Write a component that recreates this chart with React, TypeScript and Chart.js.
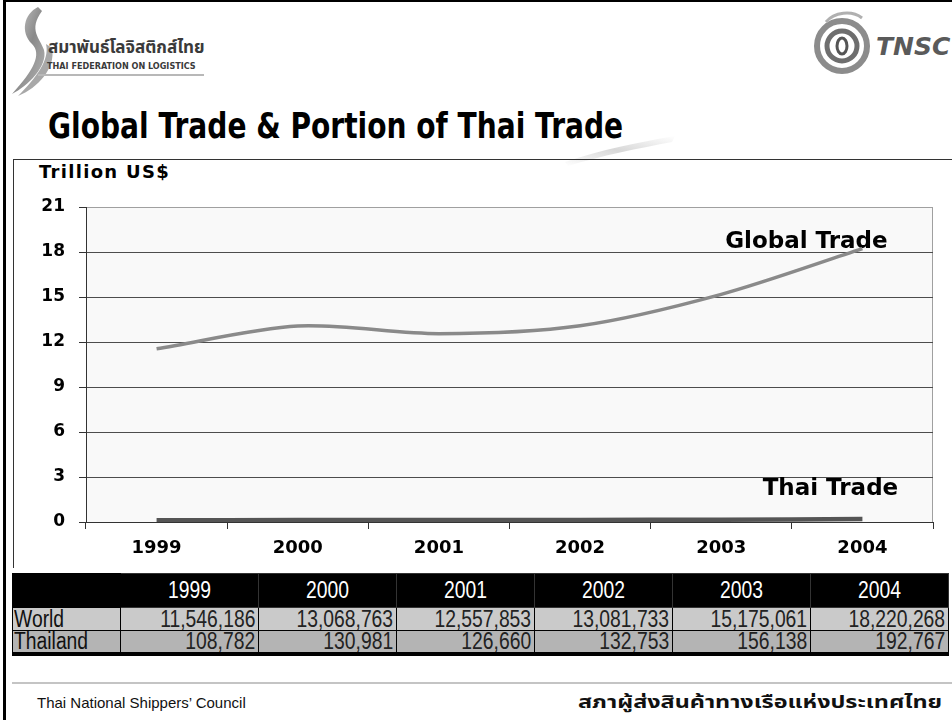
import React, { useEffect, useRef } from "react";
import { Chart, registerables } from "chart.js";

Chart.register(...registerables);

// ---- data (table values in million US$) ----
const years = ["1999", "2000", "2001", "2002", "2003", "2004"];
const worldTrade = [11546186, 13068763, 12557853, 13081733, 15175061, 18220268];
const thaiTrade = [108782, 130981, 126660, 132753, 156138, 192767];
const yTicks = [0, 3, 6, 9, 12, 15, 18, 21];
const rowLabels = ["World", "Thailand"];

const fmt = (n: number) => n.toLocaleString("en-US");

const plotBg = {
  id: "plotBg",
  beforeDraw(chart: any) {
    const { ctx, chartArea: a } = chart;
    ctx.save();
    ctx.fillStyle = "#f9f9f9";
    ctx.fillRect(a.left, a.top, a.right - a.left, a.bottom - a.top);
    ctx.strokeStyle = "#a0a0a0";
    ctx.lineWidth = 1;
    ctx.beginPath();
    ctx.moveTo(Math.round(a.right) - 0.5, a.top);
    ctx.lineTo(Math.round(a.right) - 0.5, a.bottom);
    ctx.stroke();
    ctx.restore();
  },
};

const seriesLabels = {
  id: "seriesLabels",
  beforeDatasetsDraw(chart: any) {
    const ctx = chart.ctx;
    const g = chart.getDatasetMeta(0).data;
    const t = chart.getDatasetMeta(1).data;
    const gl = g[g.length - 1];
    const tl = t[t.length - 1];
    ctx.save();
    ctx.font = 'bold 23px "DejaVu Sans"';
    ctx.fillStyle = "#000";
    ctx.textAlign = "center";
    ctx.textBaseline = "alphabetic";
    ctx.fillText("Global Trade", gl.x - 56, gl.y - 1);
    ctx.fillText("Thai Trade", tl.x - 32, tl.y - 24);
    ctx.restore();
  },
};

function TradeChart() {
  const ref = useRef<HTMLCanvasElement | null>(null);
  useEffect(() => {
    if (!ref.current) return;
    const chart = new Chart(ref.current, {
      type: "line",
      data: {
        labels: years,
        datasets: [
          {
            label: "Global Trade",
            data: worldTrade.map((v) => v / 1e6),
            borderColor: "#8a8a8a",
            borderWidth: 3.5,
            pointRadius: 0,
            tension: 0.3,
            fill: false,
          },
          {
            label: "Thai Trade",
            data: thaiTrade.map((v) => v / 1e6),
            borderColor: "#555555",
            borderWidth: 4.5,
            pointRadius: 0,
            tension: 0.3,
            fill: false,
          },
        ],
      },
      options: {
        animation: false,
        responsive: false,
        maintainAspectRatio: false,
        devicePixelRatio: 1,
        layout: { padding: { top: 47, right: 19, left: 0, bottom: 0 } },
        plugins: {
          legend: { display: false },
          tooltip: { enabled: false },
        },
        scales: {
          x: {
            type: "category",
            offset: true,
            grid: {
              display: true,
              offset: true,
              drawOnChartArea: false,
              drawTicks: true,
              tickLength: 7,
              color: "#333",
            },
            border: { display: true, color: "#333", width: 1 },
            ticks: {
              font: { family: "DejaVu Sans", weight: "bold", size: 18 },
              color: "#000",
              padding: 9,
              maxRotation: 0,
            },
            afterFit: (s: any) => {
              s.height = 45;
            },
          },
          y: {
            min: 0,
            max: 21,
            afterBuildTicks: (s: any) => {
              s.ticks = yTicks.map((v) => ({ value: v }));
            },
            grid: {
              color: (c: any) => (c.tick && c.tick.value === 21 ? "#a0a0a0" : "#4d4d4d"),
              tickColor: "#333",
              tickLength: 7,
              drawTicks: true,
            },
            border: { display: true, color: "#333", width: 1 },
            ticks: {
              font: { family: "DejaVu Sans", weight: "bold", size: 17 },
              color: "#000",
              padding: 14,
            },
            afterFit: (s: any) => {
              s.width = 72;
            },
          },
        },
      },
      plugins: [plotBg, seriesLabels],
    } as any);
    return () => chart.destroy();
  }, []);
  return <canvas ref={ref} width={938} height={407} style={{ position: "absolute", left: 14, top: 160, width: 938, height: 407 }} />;
}

const tableFont = '"Liberation Sans", Arial, sans-serif';

function Squeeze({ children, origin }: { children: React.ReactNode; origin: string }) {
  return (
    <span style={{ display: "inline-block", transform: "scaleX(0.84)", transformOrigin: origin }}>{children}</span>
  );
}

function DataTable() {
  const cell: React.CSSProperties = {
    border: "1px solid #000",
    padding: "0 3px",
    fontFamily: tableFont,
    fontSize: 23,
    lineHeight: "21px",
    whiteSpace: "nowrap",
    overflow: "visible",
  };
  return (
    <table
      style={{
        position: "absolute",
        left: 12,
        top: 573,
        width: 936,
        borderCollapse: "collapse",
        tableLayout: "fixed",
        borderBottom: "4px solid #000",
      }}
    >
      <colgroup>
        <col style={{ width: 108 }} />
        {years.map((y) => (
          <col key={y} style={{ width: 138 }} />
        ))}
      </colgroup>
      <tbody>
        <tr style={{ background: "#000", height: 34 }}>
          <td style={{ ...cell, borderColor: "#000" }}></td>
          {years.map((y) => (
            <td key={y} style={{ ...cell, color: "#fff", textAlign: "center", borderColor: "#333" }}>
              <Squeeze origin="50% 50%">{y}</Squeeze>
            </td>
          ))}
        </tr>
        {[worldTrade, thaiTrade].map((row, i) => (
          <tr key={i} style={{ background: i === 0 ? "#cacaca" : "#b4b4b4", height: 23 }}>
            <td style={{ ...cell, color: "#111", padding: "0 1px" }}>
              <Squeeze origin="0 50%">{rowLabels[i]}</Squeeze>
            </td>
            {row.map((v, j) => (
              <td key={j} style={{ ...cell, color: "#222", textAlign: "right" }}>
                <Squeeze origin="100% 50%">{fmt(v)}</Squeeze>
              </td>
            ))}
          </tr>
        ))}
      </tbody>
    </table>
  );
}

function LeftLogo() {
  return (
    <div style={{ position: "absolute", left: 6, top: 4, width: 210, height: 95 }}>
      <svg width={60} height={95} style={{ position: "absolute", left: 0, top: 0 }}>
        <defs>
          <linearGradient id="lg1" x1="0" y1="0" x2="1" y2="1">
            <stop offset="0" stopColor="#d0d0d0" />
            <stop offset="0.5" stopColor="#8a8a8a" />
            <stop offset="1" stopColor="#b8b8b8" />
          </linearGradient>
        </defs>
        <path d="M32 3 C 18 10, 14 28, 26 40 C 36 50, 28 66, 6 90 C 22 82, 42 62, 38 46 C 34 34, 22 26, 36 7 Z" fill="url(#lg1)" />
        <path d="M40 40 C 44 56, 30 74, 12 92 C 32 84, 50 64, 46 44 Z" fill="#a8a8a8" />
      </svg>
      <div
        style={{
          position: "absolute",
          left: 42,
          top: 31,
          fontFamily: '"Noto Sans Thai", "Noto Sans", "DejaVu Sans", sans-serif',
          fontWeight: "bold",
          fontSize: 17,
          color: "#3a3a3a",
          whiteSpace: "nowrap",
        }}
      >
        สมาพันธ์โลจิสติกส์ไทย
      </div>
      <div
        style={{
          position: "absolute",
          left: 41,
          top: 57,
          fontFamily: '"DejaVu Sans Condensed", "DejaVu Sans", sans-serif',
          fontWeight: "bold",
          fontSize: 9,
          color: "#3a3a3a",
          whiteSpace: "nowrap",
        }}
      >
        THAI FEDERATION ON LOGISTICS
      </div>
      <div style={{ position: "absolute", left: 32, top: 70, width: 166, height: 2, background: "#b8b8b8" }} />
    </div>
  );
}

function RightLogo() {
  return (
    <div style={{ position: "absolute", left: 812, top: 8, width: 140, height: 75 }}>
      <svg width={64} height={72} style={{ position: "absolute", left: 0, top: 0 }}>
        <circle cx={30} cy={38} r={25} fill="none" stroke="#8c8c8c" strokeWidth={6} />
        <circle cx={30} cy={38} r={15} fill="none" stroke="#6e6e6e" strokeWidth={5} />
        <ellipse cx={30} cy={38} rx={5} ry={8} fill="none" stroke="#555" strokeWidth={3} />
        <path d="M14 14 C 22 4, 40 2, 50 10" fill="none" stroke="#b0b0b0" strokeWidth={3} />
      </svg>
      <div
        style={{
          position: "absolute",
          left: 64,
          top: 24,
          fontFamily: '"DejaVu Sans", sans-serif',
          fontWeight: "bold",
          fontStyle: "italic",
          fontSize: 25,
          color: "#5a5a5a",
          whiteSpace: "nowrap",
        }}
      >
        TNSC
      </div>
    </div>
  );
}

export default function App() {
  useEffect(() => {
    document.body.style.margin = "0";
  }, []);
  return (
    <div style={{ position: "absolute", left: 0, top: 0, width: 952, height: 720, background: "#fff", overflow: "hidden" }}>
      {/* slide frame */}
      <div style={{ position: "absolute", left: 3, top: 0, width: 960, height: 740, borderLeft: "3px solid #000", borderTop: "2px solid #000" }} />
      <LeftLogo />
      <RightLogo />
      {/* faint brush under title */}
      <svg width={120} height={40} style={{ position: "absolute", left: 560, top: 132 }}>
        <defs>
          <linearGradient id="br" x1="0" y1="1" x2="1" y2="0">
            <stop offset="0" stopColor="#ffffff" />
            <stop offset="0.5" stopColor="#d8d8d8" />
            <stop offset="1" stopColor="#ffffff" />
          </linearGradient>
        </defs>
        <path d="M5 30 C 40 18, 80 10, 115 4 L 112 10 C 80 16, 40 24, 8 34 Z" fill="url(#br)" />
      </svg>
      <div
        style={{
          position: "absolute",
          left: 48,
          top: 103,
          fontFamily: '"DejaVu Sans", sans-serif',
          fontWeight: "bold",
          fontSize: 36,
          lineHeight: "46px",
          color: "#000",
          whiteSpace: "nowrap",
          transformOrigin: "0 0",
          transform: "scaleX(0.78)",
        }}
      >
        Global Trade &amp; Portion of Thai Trade
      </div>
      {/* chart frame */}
      <div style={{ position: "absolute", left: 13, top: 159, width: 950, height: 408, borderLeft: "1px solid #333", borderTop: "1px solid #333" }} />
      <div
        style={{
          position: "absolute",
          left: 39,
          top: 160,
          fontFamily: '"DejaVu Sans", sans-serif',
          fontWeight: "bold",
          fontSize: 18,
          letterSpacing: 1.3,
          lineHeight: "24px",
          color: "#000",
          whiteSpace: "nowrap",
        }}
      >
        Trillion US$
      </div>
      <TradeChart />
      <DataTable />
      <div style={{ position: "absolute", left: 12, top: 682, width: 940, height: 2, background: "#c4c4c4" }} />
      <div
        style={{
          position: "absolute",
          left: 37,
          top: 694,
          fontFamily: '"Liberation Sans", Arial, sans-serif',
          fontSize: 15,
          color: "#111",
          whiteSpace: "nowrap",
        }}
      >
        Thai National Shippers’ Council
      </div>
      <div
        style={{
          position: "absolute",
          left: 578,
          top: 689,
          fontFamily: '"Noto Sans Thai", "Noto Sans", sans-serif',
          fontWeight: "bold",
          fontSize: 18,
          color: "#111",
          whiteSpace: "nowrap",
          transformOrigin: "0 0",
          transform: "scaleX(1.3)",
        }}
      >
        สภาผู้ส่งสินค้าทางเรือแห่งประเทศไทย
      </div>
    </div>
  );
}
